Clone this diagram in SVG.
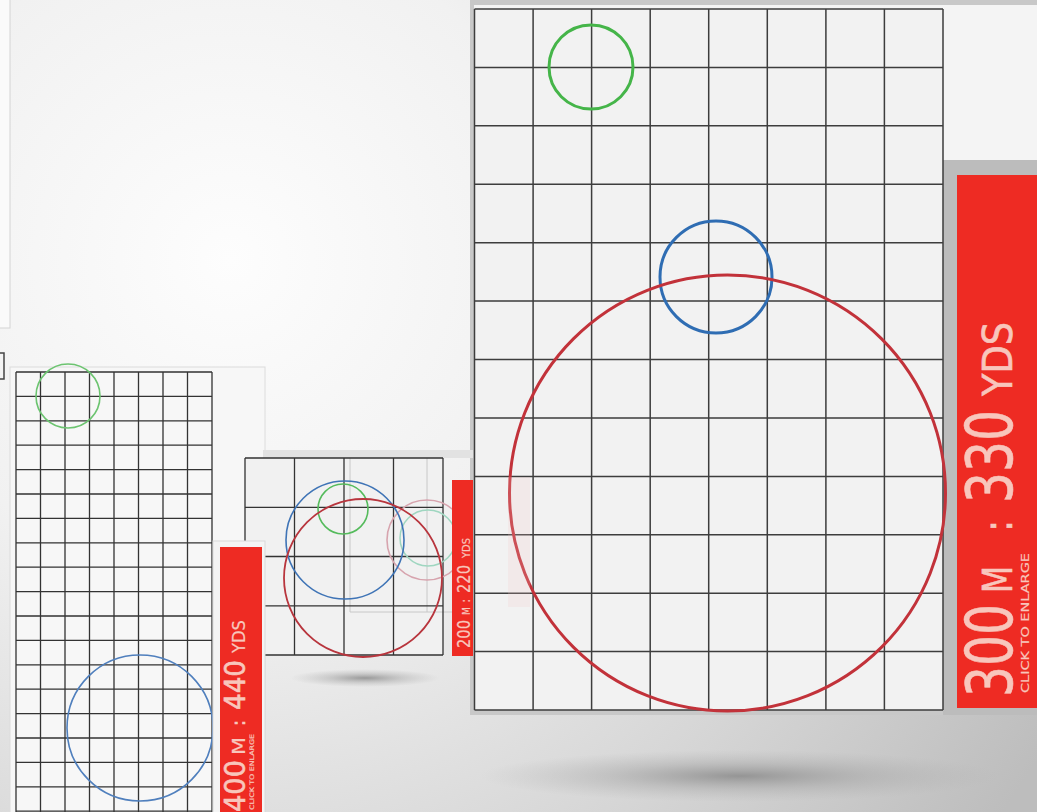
<svg xmlns="http://www.w3.org/2000/svg" width="1037" height="812" viewBox="0 0 1037 812">
<defs>
<radialGradient id="bg" cx="230" cy="260" r="950" gradientUnits="userSpaceOnUse">
<stop offset="0" stop-color="#fdfdfd"/>
<stop offset="0.35" stop-color="#f1f1f1"/>
<stop offset="0.7" stop-color="#d6d6d6"/>
<stop offset="1" stop-color="#bdbdbd"/>
</radialGradient>
<radialGradient id="shadow">
<stop offset="0" stop-color="#8a8a8a" stop-opacity="0.85"/>
<stop offset="0.5" stop-color="#a0a0a0" stop-opacity="0.4"/>
<stop offset="1" stop-color="#b0b0b0" stop-opacity="0"/>
</radialGradient>
<style>
.grid{fill:none;stroke:#333;stroke-width:1.3}
.gridb{fill:none;stroke:#3d3d3d;stroke-width:1.5}
.red{fill:#ee2b23}
.lbl{fill:#f8c6bc;stroke:#f8c6bc;stroke-width:0.6;font-family:"DejaVu Sans Condensed","DejaVu Sans","Liberation Sans",sans-serif;font-stretch:condensed}
.sm{stroke-width:0.2}
</style>
</defs>
<rect width="1037" height="812" fill="url(#bg)"/>

<g id="shadows">
<ellipse cx="740" cy="776" rx="260" ry="26" fill="url(#shadow)"/>
<ellipse cx="365" cy="678" rx="75" ry="9" fill="url(#shadow)"/>
</g>

<g id="corner-panel">
<rect x="-2" y="-2" width="12" height="330" fill="#fafafa" stroke="#d4d4d4" stroke-width="1"/>
<path d="M0 353 H4 V379 H0" fill="none" stroke="#444" stroke-width="1.5"/>
</g>

<g id="panel-300">
<rect x="470" y="0" width="567" height="715" fill="#c8c8c8"/>
<rect x="474" y="5" width="563" height="705" fill="#f4f4f4"/>
<rect x="943" y="160" width="94" height="555" fill="#bcbcbc"/>
<rect x="474" y="9" width="469" height="701" fill="#f2f2f2"/>
<path class="gridb" d="M474.5 9V710M533.1 9V710M591.6 9V710M650.2 9V710M708.7 9V710M767.3 9V710M825.9 9V710M884.4 9V710M943 9V710M474.5 9H943M474.5 67.4H943M474.5 125.8H943M474.5 184.3H943M474.5 242.7H943M474.5 301.1H943M474.5 359.5H943M474.5 417.9H943M474.5 476.4H943M474.5 534.8H943M474.5 593.2H943M474.5 651.6H943M474.5 710H943"/>
<circle cx="591" cy="67" r="42" fill="none" stroke="#45b549" stroke-width="3"/>
<circle cx="716" cy="277" r="56" fill="none" stroke="#2f6db3" stroke-width="3"/>
<circle cx="727.5" cy="493" r="218" fill="none" stroke="#c2323a" stroke-width="3"/>
<rect x="508" y="477" width="22" height="130" fill="#f3c9c9" opacity="0.2"/>
</g>

<g id="label-300">
<rect class="red" x="957" y="175" width="80" height="533"/>
<g transform="translate(1012,697) rotate(-90)">
<text class="lbl" x="0" y="0" font-size="64" textLength="93" lengthAdjust="spacingAndGlyphs">300</text>
<text class="lbl" x="104" y="0" font-size="40" textLength="27" lengthAdjust="spacingAndGlyphs">M</text>
<text class="lbl" x="165" y="0" font-size="40">:</text>
<text class="lbl" x="194" y="0" font-size="64" textLength="93" lengthAdjust="spacingAndGlyphs">330</text>
<text class="lbl" x="301" y="0" font-size="40" textLength="74" lengthAdjust="spacingAndGlyphs">YDS</text>
<text class="lbl sm" x="4" y="17" font-size="11" textLength="140" lengthAdjust="spacingAndGlyphs">CLICK TO ENLARGE</text>
</g>
</g>

<g id="panel-400">
<rect x="10" y="367" width="255" height="450" fill="#f7f7f7" stroke="#dcdcdc" stroke-width="1"/>
<path class="grid" d="M16 372V812M40.5 372V812M65 372V812M89.5 372V812M114 372V812M138.5 372V812M163 372V812M187.5 372V812M212 372V812M16 372H212M16 396.4H212M16 420.8H212M16 445.2H212M16 469.6H212M16 494H212M16 518.4H212M16 542.8H212M16 567.2H212M16 591.6H212M16 616H212M16 640.4H212M16 664.8H212M16 689.2H212M16 713.6H212M16 738H212M16 762.4H212M16 786.8H212M16 811.2H212"/>
<circle cx="68" cy="396" r="32" fill="none" stroke="#6cc470" stroke-width="1.6"/>
<circle cx="140" cy="728" r="73" fill="none" stroke="#4f7fbd" stroke-width="1.6"/>
</g>

<g id="panel-200">
<rect x="263" y="450" width="210" height="8" fill="#e2e2e2"/>
<rect x="245" y="458" width="198" height="197" fill="#f1f1f1"/>
<path d="M350 458V612H453M427 458V612" fill="none" stroke="#c8c8c8" stroke-width="1"/>
<path class="grid" d="M245 458V655M294.5 458V655M344 458V655M393.5 458V655M443 458V655M245 458H443M245 507.3H443M245 556.5H443M245 605.8H443M245 655H443"/>
<circle cx="428" cy="538" r="28" fill="none" stroke="#9fd6c0" stroke-width="1.5"/>
<circle cx="427" cy="540" r="40" fill="none" stroke="#d7a4ae" stroke-width="1.6"/>
<circle cx="345" cy="540" r="59" fill="none" stroke="#3f74b6" stroke-width="1.6"/>
<circle cx="343" cy="509" r="25" fill="none" stroke="#55bb5c" stroke-width="1.6"/>
<circle cx="363" cy="578" r="79" fill="none" stroke="#b8353d" stroke-width="1.8"/>
</g>

<g id="label-200">
<rect class="red" x="452" y="480" width="21" height="176"/>
<g transform="translate(470,650) rotate(-90)">
<text class="lbl sm" x="2" y="0" font-size="17" textLength="28" lengthAdjust="spacingAndGlyphs">200</text>
<text class="lbl sm" x="35" y="0" font-size="10">M</text>
<text class="lbl sm" x="47" y="0" font-size="14">:</text>
<text class="lbl sm" x="57" y="0" font-size="17" textLength="28" lengthAdjust="spacingAndGlyphs">220</text>
<text class="lbl sm" x="92" y="0" font-size="10" textLength="20" lengthAdjust="spacingAndGlyphs">YDS</text>
</g>
</g>

<g id="label-400">
<rect x="213" y="541" width="52" height="276" fill="#f4f4f4" stroke="#dadada" stroke-width="1"/>
<rect class="red" x="220" y="547" width="42" height="270"/>
<g transform="translate(245,812) rotate(-90)">
<text class="lbl" x="0" y="0" font-size="28" textLength="52" lengthAdjust="spacingAndGlyphs">400</text>
<text class="lbl sm" x="57" y="0" font-size="17" textLength="18" lengthAdjust="spacingAndGlyphs">M</text>
<text class="lbl" x="86" y="0" font-size="20">:</text>
<text class="lbl" x="102" y="0" font-size="28" textLength="50" lengthAdjust="spacingAndGlyphs">440</text>
<text class="lbl sm" x="159" y="0" font-size="17" textLength="33" lengthAdjust="spacingAndGlyphs">YDS</text>
<text class="lbl sm" x="2" y="9" font-size="6" textLength="76" lengthAdjust="spacingAndGlyphs">CLICK TO ENLARGE</text>
</g>
</g>

<g id="connectors"/>
</svg>
